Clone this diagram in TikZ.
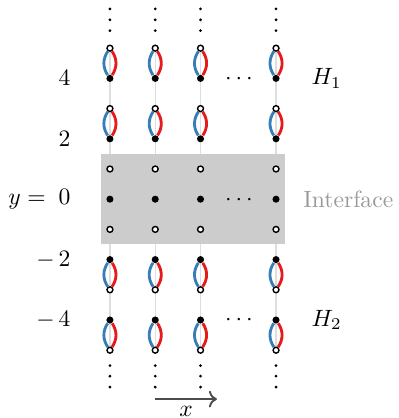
\documentclass[tikz,border=0pt]{standalone}
\usetikzlibrary{arrows.meta}
\definecolor{myblue}{HTML}{377EB8}
\definecolor{myred}{HTML}{E41A1C}
\pgfdeclarelayer{bg}
\pgfsetlayers{bg,main}
\begin{document}
\begin{tikzpicture}[x=0.45cm,y=0.45cm,
  opensite/.style={circle,draw=black,fill=white,line width=0.6pt,inner sep=0pt,minimum size=2.5pt},
  fullsite/.style={circle,fill=black,inner sep=0pt,minimum size=3pt},
  bluearc/.style={draw=myblue,line width=1.2pt,bend right=34},
  redarc/.style={draw=myred,line width=1.2pt,bend left=34},
  chainline/.style={draw=black!13,line width=0.6pt},
  dotmark/.style={fill=black},
  ylabel/.style={anchor=east,inner sep=0pt},
  hlabel/.style={anchor=west,inner sep=0pt},
  hdots/.style={anchor=base,inner sep=0pt,yshift=-2.5pt}]
\useasboundingbox (-3.64,-7.245) rectangle (9.54,6.596);
% sites
\foreach \i/\x in {1/0,2/1.5,3/3,4/5.5}{
  \foreach \k in {0,...,10}{
    \pgfmathtruncatemacro\j{\k-5}
    \ifodd\j\relax
      \node[opensite] (n\i-\k) at (\x,\j) {};
    \else
      \node[fullsite] (n\i-\k) at (\x,\j) {};
    \fi
  }
}
% background lines and interface
\begin{pgfonlayer}{bg}
  \foreach \i in {1,...,4}{\draw[chainline] (n\i-10) -- (n\i-0);}
  \fill[black!20] (-0.3,-1.5) rectangle (5.8,1.5);
\end{pgfonlayer}
% loops
\foreach \i in {1,...,4}{
  \foreach \a/\b in {10/9,8/7,3/2,1/0}{
    \draw[bluearc] (n\i-\a) to (n\i-\b);
    \draw[redarc] (n\i-\a) to (n\i-\b);
  }
}
% vertical dots
\foreach \x in {0,1.5,3,5.5}{
  \foreach \y in {6.30,5.94,5.58,-5.51,-5.86,-6.22}{
    \fill[dotmark] (\x,\y) circle (0.65pt);
  }
}
% horizontal dots
\node[hdots] (d1) at (4.27,4) {$\cdots$};
\node[hdots] (d2) at (4.27,0) {$\cdots$};
\node[hdots] (d3) at (4.27,-4) {$\cdots$};
% y labels
\node[ylabel] (l4) at (-1.29,4) {$4$};
\node[ylabel] (l2) at (-1.29,2) {$2$};
\node[ylabel] (l0) at (-1.29,0) {$y=\;0$};
\node[ylabel] (lm2) at (-1.29,-2) {$-\,2$};
\node[ylabel] (lm4) at (-1.29,-4) {$-\,4$};
% right labels
\node[hlabel] (h1) at (6.66,4) {$H_1$};
\node[hlabel] (h2) at (6.66,-4) {$H_2$};
\node[hlabel,text=black!40] (iface) at (6.39,0) {Interface};
% x arrow
\coordinate (xa) at (1.5,-6.62);
\coordinate (xb) at (3.54,-6.62);
\draw[->,black!70,line width=0.8pt] (xa) -- node[below,text=black,inner sep=2.6pt] {$x$} (xb);
\end{tikzpicture}
\end{document}
